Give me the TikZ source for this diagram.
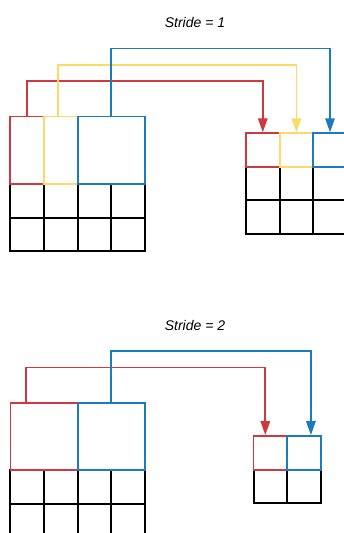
\documentclass[tikz,border=0pt]{standalone}
\usepackage{fontspec}
\setmainfont{Liberation Sans}
\usetikzlibrary{positioning, arrows.meta}
\definecolor{KernRed}{RGB}{208,56,64}
\definecolor{KernYellow}{RGB}{255,217,102}
\definecolor{KernBlue}{RGB}{24,124,190}

\begin{document}
\begin{tikzpicture}[x=1pt, y=-1pt]
        \tikzstyle{cell} = [rectangle, draw=black, line width=2pt,
          minimum width=33.6pt, minimum height=33.6pt, inner sep=0pt]
        \tikzstyle{kern} = [rectangle, line width=1.8pt, minimum height=67.2pt, inner sep=0pt]
        \tikzstyle{outcell} = [rectangle, line width=1.8pt,
          minimum width=33.6pt, minimum height=33.6pt, inner sep=0pt]
        \tikzstyle{link} = [line width=1.7pt, -{Triangle[width=9.5pt,length=14pt]}]
        \tikzstyle{caption} = [font=\itshape\fontsize{14}{16}\selectfont]

        \clip (0,0) rectangle (344,533);

        % Stride = 1
        \node[caption] (title1) at (195,22) {Stride = 1};

        \foreach \r in {0,1}
          \foreach \c in {0,...,3}
            \node[cell] (in1-\r\c) at (27.1+\c*33.6, 200.8+\r*33.6) {};

        \node[kern, draw=KernRed, minimum width=33.6pt] (kred1) at (27.1,150) {};
        \node[kern, draw=KernYellow, minimum width=33.6pt] (kyel1) at (60.7,150) {};
        \node[kern, draw=KernBlue, minimum width=67.2pt] (kblue1) at (111.3,150) {};

        \foreach \r in {1,2}
          \foreach \c in {0,...,2}
            \node[cell] (out1-\r\c) at (262.8+\c*33.6, 150+\r*33.6) {};

        \node[outcell, draw=KernRed] (ored1) at (262.8,150) {};
        \node[outcell, draw=KernYellow] (oyel1) at (296.4,150) {};
        \node[outcell, draw=KernBlue] (oblue1) at (330,150) {};

        \draw[link, KernRed] (kred1.north) -- ++(0,-34.6) -| (ored1.north);
        \draw[link, KernYellow] ([xshift=-3pt]kyel1.north) -- ++(0,-50.3) -| (oyel1.north);
        \draw[link, KernBlue] (kblue1.north) -- ++(0,-67) -| (oblue1.north);

        % Stride = 2
        \node[caption] (title2) at (195,325) {Stride = 2};

        \foreach \r in {0,1}
          \foreach \c in {0,...,3}
            \node[cell] (in2-\r\c) at (27.1+\c*33.6, 487.1+\r*33.6) {};

        \node[kern, draw=KernRed, minimum width=67.2pt] (kred2) at (44,436.5) {};
        \node[kern, draw=KernBlue, minimum width=67.2pt] (kblue2) at (111.3,436.5) {};

        \foreach \c in {0,1}
          \node[cell] (out2-1\c) at (270.3+\c*33.6, 486.4) {};

        \node[outcell, draw=KernRed] (ored2) at (270.3,452.8) {};
        \node[outcell, draw=KernBlue] (oblue2) at (303.9,452.8) {};

        \draw[link, KernRed] ([xshift=16.8pt]kred2.north west) -- ++(0,-34.4) -| ([xshift=-5pt]ored2.north);
        \draw[link, KernBlue] (kblue2.north) -- ++(0,-50.7) -| ([xshift=7pt]oblue2.north);
      \end{tikzpicture}
\end{document}
